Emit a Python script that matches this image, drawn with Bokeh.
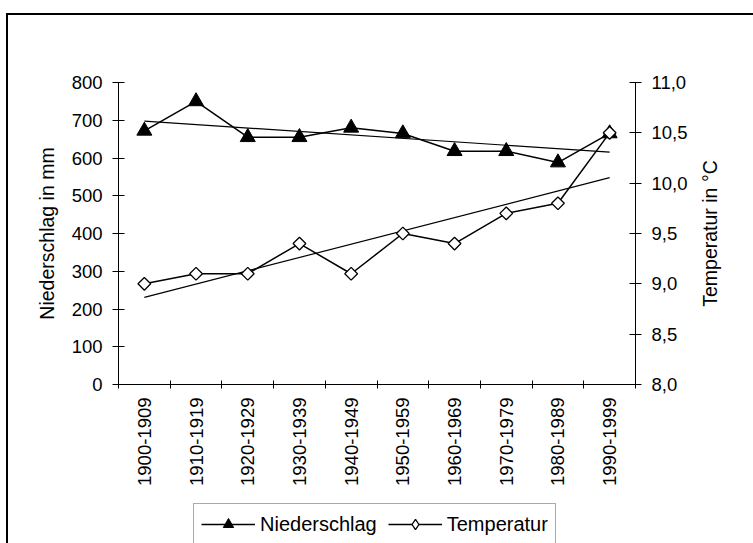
import math
import numpy as np
from bokeh.plotting import figure
from bokeh.layouts import row, column
from bokeh.models import (Range1d, LinearAxis, FixedTicker, CustomJSTickFormatter,
                          Legend, LegendItem, ColumnDataSource, Label)
from bokeh.embed import file_html
from bokeh.resources import INLINE

categories = ["1900-1909", "1910-1919", "1920-1929", "1930-1939", "1940-1949",
              "1950-1959", "1960-1969", "1970-1979", "1980-1989", "1990-1999"]
niederschlag = [672, 750, 655, 655, 680, 665, 618, 618, 588, 665]
temperatur = [9.0, 9.1, 9.1, 9.4, 9.1, 9.5, 9.4, 9.7, 9.8, 10.5]
left_ticks = [0, 100, 200, 300, 400, 500, 600, 700, 800]
right_ticks = [8.0, 8.5, 9.0, 9.5, 10.0, 10.5, 11.0]
left_title = "Niederschlag in mm"
right_title = "Temperatur in °C"
series_names = ["Niederschlag", "Temperatur"]

FONT = "Liberation Sans"
FS = "18.5px"
TFS = "19.5px"

xpos = [i + 0.5 for i in range(len(categories))]
idx = np.arange(len(categories))
pp = np.polyfit(idx, niederschlag, 1)
pt = np.polyfit(idx, temperatur, 1)
trend_x = [xpos[0], xpos[-1]]
trend_p = [float(np.polyval(pp, 0)), float(np.polyval(pp, len(categories) - 1))]
trend_t = [float(np.polyval(pt, 0)), float(np.polyval(pt, len(categories) - 1))]

src = ColumnDataSource(dict(x=xpos, p=niederschlag, t=temperatur, cat=categories))

TOP, BOTTOM = 67, 116

# ---------------- main chart ----------------
p = figure(width=687, height=485, output_backend="svg", toolbar_location=None,
           x_range=Range1d(0, len(categories)), y_range=Range1d(0, 800),
           min_border_left=110, min_border_right=60, min_border_top=TOP,
           min_border_bottom=BOTTOM, background_fill_color="white",
           border_fill_color="white")
p.outline_line_color = None
p.grid.visible = False
p.extra_y_ranges = {"temp": Range1d(8, 11)}

xa = p.xaxis[0]
xa.ticker = FixedTicker(ticks=xpos, minor_ticks=list(range(len(categories) + 1)))
xa.formatter = CustomJSTickFormatter(args=dict(labels=categories),
                                     code="return labels[Math.floor(tick)];")
xa.major_label_orientation = math.pi / 2
xa.major_tick_in = 0
xa.major_tick_out = 0
xa.minor_tick_in = 4
xa.minor_tick_out = 4
xa.minor_tick_line_color = "black"
xa.major_label_standoff = 9

ya = p.yaxis[0]
ya.ticker = FixedTicker(ticks=left_ticks)
ya.axis_label = left_title
ya.major_tick_in = 6
ya.major_tick_out = 6
ya.minor_tick_line_color = None
ya.major_label_standoff = 10
ya.axis_label_standoff = 11

ra = LinearAxis(y_range_name="temp", ticker=FixedTicker(ticks=right_ticks),
                formatter=CustomJSTickFormatter(code="return tick.toFixed(1).replace('.', ',');"))
ra.major_tick_in = 6
ra.major_tick_out = 6
ra.minor_tick_line_color = None
ra.major_label_standoff = 10
p.add_layout(ra, "right")

for ax in (xa, ya, ra):
    ax.major_label_text_font = FONT
    ax.major_label_text_font_size = FS
    ax.major_label_text_color = "black"
    ax.axis_label_text_font = FONT
    ax.axis_label_text_font_size = TFS
    ax.axis_label_text_font_style = "normal"
    ax.axis_label_text_color = "black"
    ax.axis_line_color = "black"
    ax.major_tick_line_color = "black"

# trend lines
p.line(trend_x, trend_p, line_color="black", line_width=1.2)
p.line(trend_x, trend_t, line_color="black", line_width=1.2, y_range_name="temp")

# series
p.line("x", "p", source=src, line_color="black", line_width=1.5)
p.scatter("x", "p", source=src, marker="triangle", size=15,
          fill_color="black", line_color="black")
p.line("x", "t", source=src, line_color="black", line_width=1.5, y_range_name="temp")
p.scatter("x", "t", source=src, marker="square", angle=math.pi / 4, size=9,
          fill_color="white", line_color="black", line_width=1.3, y_range_name="temp")

# ---------------- right axis title (frame aligned with main frame) ----------------
rf = figure(width=58, height=485, output_backend="svg", toolbar_location=None,
            x_range=Range1d(0, 58), y_range=Range1d(0, 800),
            min_border_left=0, min_border_right=0, min_border_top=TOP,
            min_border_bottom=BOTTOM,
            x_axis_location=None, y_axis_location=None,
            background_fill_color="white", border_fill_color="white")
rf.outline_line_color = None
rf.grid.visible = False
rf.add_layout(Label(x=14, y=400, text=right_title,
                    angle=math.pi / 2, text_align="center", text_baseline="alphabetic",
                    text_font=FONT, text_font_size=TFS, text_color="black"))

# ---------------- legend strip ----------------
lf = figure(width=745, height=43, output_backend="svg", toolbar_location=None,
            x_range=Range1d(0, 1), y_range=Range1d(-2, -1), min_border=0,
            x_axis_location=None, y_axis_location=None,
            background_fill_color="white", border_fill_color="white")
lf.outline_line_color = None
lf.grid.visible = False
# legend swatches use the real series (they lie outside this strip's visible range)
l1 = lf.line("x", "p", source=src, line_color="black", line_width=1.5)
m1 = lf.scatter("x", "p", source=src, marker="triangle", fill_color="black",
                line_color="black")
l2 = lf.line("x", "t", source=src, line_color="black", line_width=1.5)
m2 = lf.scatter("x", "t", source=src, marker="diamond", fill_color="white",
                line_color="black", line_width=1.3)

legend = Legend(items=[LegendItem(label=series_names[0], renderers=[l1, m1]),
                       LegendItem(label=series_names[1], renderers=[l2, m2])],
                orientation="horizontal", location=(185, -2))
legend.label_text_font = FONT
legend.label_text_font_size = "20px"
legend.label_text_color = "black"
legend.glyph_width = 54
legend.glyph_height = 26
legend.label_standoff = 5
legend.spacing = 11
legend.padding = 7
legend.margin = 0
legend.border_line_color = "#555555"
legend.border_line_width = 1.5
legend.background_fill_color = "white"
legend.background_fill_alpha = 1
lf.add_layout(legend, "center")

layout = column(row(p, rf), lf)
layout.styles = {"position": "relative", "left": "8px", "top": "15px",
                 "outline": "2px solid black"}

open("out.html", "w").write(file_html(layout, INLINE))
